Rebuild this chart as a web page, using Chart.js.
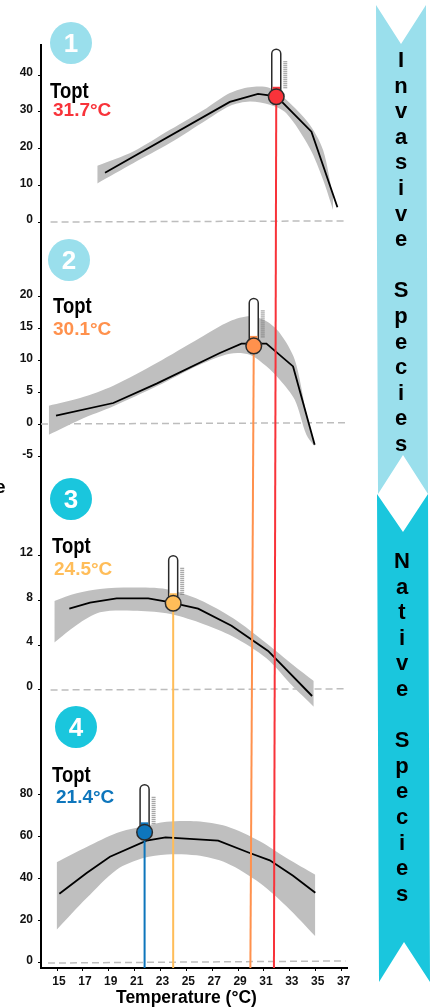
<!DOCTYPE html>
<html>
<head>
<meta charset="utf-8">
<title>Topt</title>
<script src="https://cdn.jsdelivr.net/npm/chart.js@4/dist/chart.umd.min.js"></script>
<style>
  body { margin: 0; background: #fff; font-family: "Liberation Sans", Arial, sans-serif; }
  #wrap { position: relative; width: 438px; height: 1007px; overflow: hidden; }
  canvas { position: absolute; left: 0; top: 0; }
  .abs { position: absolute; line-height: 1; white-space: nowrap; font-weight: bold; }
  .bubble { width: 42px; height: 42px; border-radius: 50%; color: #fff; font-size: 26px; line-height: 42px; text-align: center; }
  .light { background: #9adfec; }
  .dark { background: #1ac6dd; }
  .topt { font-size: 22px; color: #000; transform: scaleX(0.84); transform-origin: left top; }
  .val { font-size: 19px; }
  .banner { position: absolute; left: 370px; top: 0; width: 68px; height: 1007px; }
  .letters { position: absolute; width: 30px; text-align: center; font-weight: bold; font-size: 22px; line-height: 25.6px; color: #000; white-space: pre; }
</style>
</head>
<body>
<div id="wrap">
  <canvas id="myChart" width="438" height="1007"></canvas>

  <div class="abs bubble light" style="left:50px;top:22px">1</div>
  <div class="abs bubble light" style="left:48px;top:239px">2</div>
  <div class="abs bubble dark" style="left:50px;top:478px">3</div>
  <div class="abs bubble dark" style="left:55px;top:706px">4</div>

  <div class="abs topt" style="left:50px;top:80px">Topt</div>
  <div class="abs val" style="left:53px;top:100px;color:#f8333a">31.7°C</div>
  <div class="abs topt" style="left:53px;top:295px">Topt</div>
  <div class="abs val" style="left:53px;top:319px;color:#ff914d">30.1°C</div>
  <div class="abs topt" style="left:52px;top:535px">Topt</div>
  <div class="abs val" style="left:54px;top:559px;color:#ffbd59">24.5°C</div>
  <div class="abs topt" style="left:52px;top:764px">Topt</div>
  <div class="abs val" style="left:56px;top:787px;color:#0e76bc">21.4°C</div>

  <div class="abs" style="left:-5px;top:477px;font-size:19px">e</div>
  <div class="abs" style="left:116px;top:989px;font-size:17.5px">Temperature (°C)</div>

  <div class="banner light" style="clip-path:polygon(6px 5px,31px 44px,56px 5px,58px 494px,33px 455px,8px 494px)"></div>
  <div class="banner dark" style="clip-path:polygon(7px 494px,33px 532px,58px 494px,60px 982px,34px 942px,9px 982px)"></div>
  <div class="letters" id="invasive" style="left:386px;top:47px"></div>
  <div class="letters" id="native" style="left:387px;top:548px"></div>
</div>

<script>
// x axis
const tempTicks = [15, 17, 19, 21, 23, 25, 27, 29, 31, 33, 35, 37];
const tempRange = [13.76, 37.42];

// y axes, top panel first
const yTicks1 = [0, 10, 20, 30, 40];
const yTicks2 = [-5, 0, 5, 10, 15, 20];
const yTicks3 = [0, 4, 8, 12];
const yTicks4 = [0, 20, 40, 60, 80];
const yRange1 = [-4.9, 48.2];
const yRange2 = [-8.75, 28.75];
const yRange3 = [-1.79, 18.75];
const yRange4 = [-2.87, 120.6];

// panel 1
const lineX1 = [18.71, 28.36, 30.54, 31.97, 34.67, 36.68];
const lineY1 = [13.4, 32.7, 34.9, 34.2, 24.6, 4.0];
const bandX1 = [18.11, 20.89, 23.73, 26.56, 28.36, 29.9, 31.45, 32.73, 34.54, 35.57, 36.34];
const bandHi1 = [15.3, 19.2, 25.1, 31, 35.1, 36.7, 36.5, 33.3, 26.5, 19.6, 6.9];
const bandLo1 = [10.5, 16, 21.5, 27.8, 31.6, 32.8, 31.9, 29.6, 20.1, 11.5, 3.3];

// panel 2
const lineX2 = [14.92, 19.35, 22.7, 27.59, 29.26, 31.19, 33.25, 34.92];
const lineY2 = [1.3, 3.28, 6.3, 11.09, 12.55, 12.55, 9.0, -3.23];
const bandX2 = [14.36, 16.78, 19.35, 22.7, 26.04, 28.36, 29.9, 31.19, 32.22, 33.38, 34.28, 34.92];
const bandHi2 = [2.86, 4.06, 5.99, 9.53, 13.44, 16.04, 16.82, 16.04, 14.22, 10.05, 1.7, -3.2];
const bandLo2 = [-1.67, 0.68, 2.76, 5.89, 9.27, 10.99, 10.83, 9.01, 6.93, 3.8, -1.67, -3.49];

// panel 3
const lineX3 = [15.95, 17.55, 19.61, 22.05, 23.47, 25.91, 28.49, 31.32, 34.72];
const lineY3 = [7.26, 7.8, 8.18, 8.18, 7.89, 7.26, 5.74, 3.48, -0.54];
const bandX3 = [14.79, 16.52, 18.32, 20.89, 23.47, 26.04, 28.62, 31.19, 33.25, 34.85];
const bandHi3 = [7.95, 8.63, 9.02, 9.14, 8.99, 8.04, 6.4, 4.17, 2.23, 0.8];
const bandLo3 = [4.23, 5.8, 6.93, 7.08, 6.85, 6.01, 4.76, 2.83, 0.3, -1.49];

// panel 4
const lineX4 = [15.18, 17.29, 19.09, 21.92, 23.39, 27.46, 29.9, 31.45, 33.25, 34.97];
const lineY4 = [32.7, 42.6, 50.4, 58.05, 59.65, 58.05, 52.15, 48.64, 41.3, 33.17];
const bandX4 = [14.97, 17.29, 19.61, 21.67, 23.47, 25.79, 28.1, 30.68, 32.74, 34.97];
const bandHi4 = [47.69, 55.02, 61.72, 64.91, 67.14, 67.3, 64.91, 57.74, 49.76, 41.79];
const bandLo4 = [15.47, 30.6, 44.2, 49.76, 51.5, 51.04, 47.37, 37.8, 26.63, 12.28];

// dashed zero lines, they lean a little in the picture
const zeroX1 = [14.5, 37.3];
const zeroY1 = [0, 0.3];
const zeroX2 = [13.76, 37.45];
const zeroY2 = [0, 0.2];
const zeroX3 = [14.5, 37.3];
const zeroY3 = [0, 0.1];
const zeroX4 = [14.3, 37.3];
const zeroY4 = [-0.5, 0.5];

// Topt markers
const toptX = [31.95, 30.21, 23.98, 21.77];
const toptY = [34.1, 12.2, 7.74, 62.06];
const toptColors = ["#f8333a", "#ff914d", "#ffbd59", "#0e76bc"];

// drop lines, read on the y axis of panel 4
const dropTopX = [31.95, 30.21, 23.98, 21.77];
const dropBottomX = [31.77, 29.95, 23.98, 21.77];
const dropTopY = [414.4, 295, 171.8, 61.7];
const dropBottomY = [-2.87, -2.87, -2.87, -2.87];

const invasiveText = "Invasive Species";
const nativeText = "Native Species";

document.getElementById("invasive").textContent = invasiveText.split("").join("\n");
document.getElementById("native").textContent = nativeText.split("").join("\n");

function zip(xs, ys) {
  return xs.map((x, i) => ({ x: x, y: ys[i] }));
}

function zeroLine(xs, ys, axis) {
  return {
    data: zip(xs, ys),
    yAxisID: axis,
    borderColor: "#bdbdbd",
    borderWidth: 1.5,
    borderDash: [7, 4],
    pointRadius: 0,
    order: 5,
  };
}

function curve(xs, ys, axis) {
  return {
    data: zip(xs, ys),
    yAxisID: axis,
    borderColor: "#000",
    borderWidth: 1.8,
    pointRadius: 0,
    order: 2,
  };
}

function band(xs, hi, lo, axis) {
  const common = { yAxisID: axis, borderWidth: 0, borderColor: "transparent", pointRadius: 0, tension: 0.3, order: 4 };
  return [
    Object.assign({ data: zip(xs, hi), fill: "+1", backgroundColor: "#bfbfbf" }, common),
    Object.assign({ data: zip(xs, lo), fill: false }, common),
  ];
}

function yAxis(ticks, range, weight, stackWeight, offset) {
  return {
    type: "linear",
    position: "left",
    stack: "panels",
    stackWeight: stackWeight,
    weight: weight,
    min: range[0],
    max: range[1],
    afterBuildTicks: (axis) => {
      axis.ticks = ticks.map((v) => ({ value: v }));
    },
    afterFit: (axis) => {
      axis.width = 41;
    },
    border: { color: "#000", width: 2 },
    grid: { drawOnChartArea: false, drawTicks: true, tickLength: 3, color: "#000" },
    ticks: {
      autoSkip: false,
      padding: 5,
      labelOffset: offset,
      color: "#111",
      font: { family: "Liberation Sans", size: 12, weight: "bold" },
    },
  };
}

const datasets = [];
const axes = ["y1", "y2", "y3", "y4"];

// markers
toptX.forEach((x, i) => {
  datasets.push({
    isTopt: true,
    color: toptColors[i],
    data: [{ x: x, y: toptY[i] }],
    yAxisID: axes[i],
    showLine: false,
    pointRadius: 7.8,
    pointBorderWidth: 1.5,
    pointBackgroundColor: toptColors[i],
    pointBorderColor: "#2b2b2b",
    clip: false,
    order: 0,
  });
  datasets.push({
    data: [
      { x: dropTopX[i], y: dropTopY[i] },
      { x: dropBottomX[i], y: dropBottomY[i] },
    ],
    yAxisID: "y4",
    borderColor: toptColors[i],
    borderWidth: 2,
    pointRadius: 0,
    clip: false,
    order: 1,
  });
});

datasets.push(curve(lineX1, lineY1, "y1"), curve(lineX2, lineY2, "y2"), curve(lineX3, lineY3, "y3"), curve(lineX4, lineY4, "y4"));
datasets.push(...band(bandX1, bandHi1, bandLo1, "y1"));
datasets.push(...band(bandX2, bandHi2, bandLo2, "y2"));
datasets.push(...band(bandX3, bandHi3, bandLo3, "y3"));
datasets.push(...band(bandX4, bandHi4, bandLo4, "y4"));
datasets.push(zeroLine(zeroX1, zeroY1, "y1"), zeroLine(zeroX2, zeroY2, "y2"), zeroLine(zeroX3, zeroY3, "y3"), zeroLine(zeroX4, zeroY4, "y4"));

// thermometer tube goes behind each marker
const thermometer = {
  id: "thermometer",
  beforeDatasetDraw(chart, args) {
    const ds = chart.data.datasets[args.index];
    if (!ds.isTopt) return;
    const p = args.meta.data[0];
    const ctx = chart.ctx;
    ctx.save();
    ctx.beginPath();
    ctx.roundRect(p.x - 4.5, p.y - 47.5, 9, 47.5, [4.5, 4.5, 0, 0]);
    ctx.fillStyle = "#fff";
    ctx.fill();
    ctx.lineWidth = 1.5;
    ctx.strokeStyle = "#2b2b2b";
    ctx.stroke();
    ctx.fillStyle = ds.color;
    ctx.fillRect(p.x - 3.7, p.y - 10, 7.4, 10);
    ctx.strokeStyle = "#777";
    ctx.lineWidth = 0.8;
    for (let t = 35; t >= 9; t -= 2) {
      ctx.beginPath();
      ctx.moveTo(p.x + 7, p.y - t);
      ctx.lineTo(p.x + 11, p.y - t);
      ctx.stroke();
    }
    ctx.restore();
  },
};

var myChart = new Chart(document.getElementById("myChart"), {
  type: "line",
  data: { datasets: datasets },
  plugins: [thermometer],
  options: {
    responsive: false,
    animation: false,
    layout: { padding: { top: 45, right: 91, bottom: 0, left: 0 } },
    plugins: { legend: { display: false }, tooltip: { enabled: false } },
    scales: {
      x: {
        type: "linear",
        min: tempRange[0],
        max: tempRange[1],
        afterBuildTicks: (axis) => {
          axis.ticks = tempTicks.map((v) => ({ value: v }));
        },
        afterFit: (axis) => {
          axis.height = 39;
        },
        border: { color: "#000", width: 2 },
        grid: { drawOnChartArea: false, drawTicks: true, tickLength: 3, color: "#000" },
        ticks: {
          autoSkip: false,
          maxRotation: 0,
          padding: 3,
          labelOffset: 2,
          color: "#111",
          font: { family: "Liberation Sans", size: 12, weight: "bold" },
        },
      },
      y1: yAxis(yTicks1, yRange1, 4, 195, -2),
      y2: yAxis(yTicks2, yRange2, 3, 240, -1),
      y3: yAxis(yTicks3, yRange3, 2, 230, -3),
      y4: yAxis(yTicks4, yRange4, 1, 258, -1),
    },
  },
});
</script>
</body>
</html>
